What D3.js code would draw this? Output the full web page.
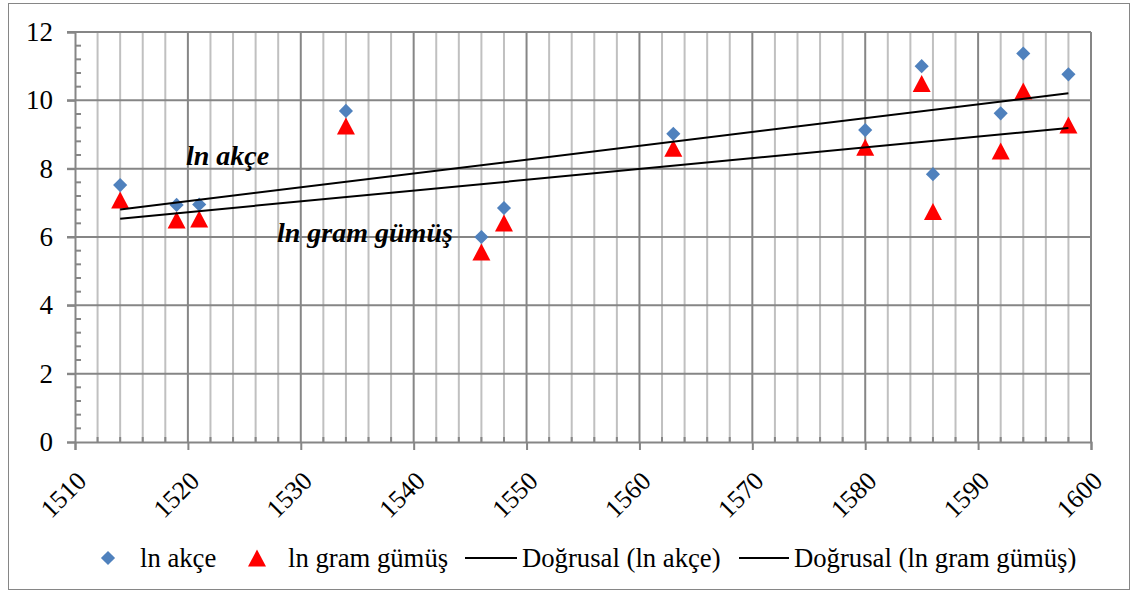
<!DOCTYPE html>
<html>
<head>
<meta charset="utf-8">
<script src="https://cdn.jsdelivr.net/npm/d3@7"></script>
<style>
  html, body { margin: 0; padding: 0; background: #fff; }
  svg { display: block; }
  svg text { font-family: "Liberation Serif", "Times New Roman", serif !important; fill: #000; }
</style>
</head>
<body>
<svg id="chart" width="1135" height="595"></svg>
<script>
// ---- data ----
const years   = [1514, 1519, 1521, 1534, 1546, 1548, 1563, 1580, 1585, 1586, 1592, 1594, 1598];
const lnAkce  = [7.52, 6.94, 6.95, 9.69, 6.00, 6.85, 9.02, 9.13, 11.00, 7.84, 9.62, 11.37, 10.76];
const lnGumus = [7.08, 6.50, 6.53, 9.25, 5.56, 6.41, 8.60, 8.63, 10.49, 6.75, 8.52, 10.27, 9.28];
const xTicks  = [1510, 1520, 1530, 1540, 1550, 1560, 1570, 1580, 1590, 1600];
const yTicks  = [0, 2, 4, 6, 8, 10, 12];
const seriesNames = ["ln akçe", "ln gram gümüş", "Doğrusal (ln akçe)", "Doğrusal (ln gram gümüş)"];
const annotations = ["ln akçe", "ln gram gümüş"];

const svg = d3.select("#chart");
const W = 1135, H = 595;
const margin = { left: 75, right: 44, top: 32, bottom: 153 };
const x = d3.scaleLinear().domain([1510, 1600]).range([margin.left, W - margin.right]);
const y = d3.scaleLinear().domain([0, 12]).range([H - margin.bottom, margin.top]);

const axisCol = "#868686", minorCol = "#c0c0c0";
const serif = '"Liberation Serif", "Times New Roman", serif';

// outer border
svg.append("rect").attr("x", 8.5).attr("y", 3.5).attr("width", 1121).attr("height", 586)
  .attr("fill", "none").attr("stroke", axisCol).attr("stroke-width", 1);

const g = svg.append("g");

// minor vertical gridlines (every 2 years)
const minorYears = d3.range(1512, 1600, 2).filter(v => v % 10 !== 0);
g.selectAll(".vminor").data(minorYears).join("line")
  .attr("x1", d => x(d)).attr("x2", d => x(d))
  .attr("y1", y(12)).attr("y2", y(0))
  .attr("stroke", minorCol).attr("stroke-width", 2);

// major vertical gridlines
g.selectAll(".vmajor").data(xTicks.slice(1)).join("line")
  .attr("x1", d => x(d)).attr("x2", d => x(d))
  .attr("y1", y(12)).attr("y2", y(0))
  .attr("stroke", axisCol).attr("stroke-width", 2);

// horizontal gridlines
g.selectAll(".hmajor").data(yTicks.slice(1)).join("line")
  .attr("x1", x(1510) - 8).attr("x2", x(1600))
  .attr("y1", d => y(d)).attr("y2", d => y(d))
  .attr("stroke", axisCol).attr("stroke-width", 2);

// y axis
const yAxis = d3.axisLeft(y).tickValues(yTicks).tickSize(8).tickFormat(d3.format("d"));
const ya = g.append("g").attr("transform", `translate(${x(1510)},0)`).call(yAxis)
  .attr("font-family", serif).attr("font-size", 27);
ya.select(".domain").attr("stroke", axisCol).attr("stroke-width", 2);
ya.selectAll(".tick line").attr("stroke", axisCol).attr("stroke-width", 2);
ya.selectAll(".tick text").attr("x", -22).style("font-family", serif).style("font-size", "27px");
// minor y ticks (inside)
const yMinor = d3.range(0, 12.01, 0.4).filter(v => Math.abs(v / 2 - Math.round(v / 2)) > 0.01);
g.selectAll(".ymin").data(yMinor).join("line")
  .attr("x1", x(1510)).attr("x2", x(1510) + 6)
  .attr("y1", d => y(d)).attr("y2", d => y(d))
  .attr("stroke", axisCol).attr("stroke-width", 2);

// x axis
const xAxis = d3.axisBottom(x).tickValues(xTicks).tickSize(8).tickFormat(d3.format("d"));
const xa = g.append("g").attr("transform", `translate(0,${y(0)})`).call(xAxis)
  .attr("font-family", serif).attr("font-size", 26);
xa.select(".domain").attr("stroke", axisCol).attr("stroke-width", 2);
xa.selectAll(".tick line").attr("stroke", axisCol).attr("stroke-width", 2);
xa.selectAll(".tick text")
  .style("font-family", serif).style("font-size", "26px")
  .attr("text-anchor", "end")
  .attr("x", 0).attr("y", 0).attr("dy", "0.35em")
  .attr("transform", "translate(6,34) rotate(-45)");
// minor x ticks (inside, upward)
g.selectAll(".xmin").data(minorYears).join("line")
  .attr("x1", d => x(d)).attr("x2", d => x(d))
  .attr("y1", y(0)).attr("y2", y(0) - 5)
  .attr("stroke", axisCol).attr("stroke-width", 2);

// markers
const diamond = d3.symbol(d3.symbolSquare, 100);
const triPath = "M0,-8.5L9,8.5L-9,8.5Z";

const pts = years.map((yr, i) => ({ yr, a: lnAkce[i], s: lnGumus[i] }));

g.selectAll(".tri").data(pts).join("path")
  .attr("d", triPath)
  .attr("transform", d => `translate(${x(d.yr)},${y(d.s)})`)
  .attr("fill", "#FF0000");

g.selectAll(".dia").data(pts).join("path")
  .attr("d", diamond)
  .attr("transform", d => `translate(${x(d.yr)},${y(d.a)}) rotate(45)`)
  .attr("fill", "#4F81BD");

// linear trend lines (least squares)
function linreg(xs, ys) {
  const mx = d3.mean(xs), my = d3.mean(ys);
  let sxy = 0, sxx = 0;
  xs.forEach((v, i) => { sxy += (v - mx) * (ys[i] - my); sxx += (v - mx) * (v - mx); });
  const b = sxy / sxx;
  return v => my + b * (v - mx);
}
const x0 = d3.min(years), x1 = d3.max(years);
[lnAkce, lnGumus].forEach(ser => {
  const f = linreg(years, ser);
  g.append("line")
    .attr("x1", x(x0)).attr("y1", y(f(x0)))
    .attr("x2", x(x1)).attr("y2", y(f(x1)))
    .attr("stroke", "#000").attr("stroke-width", 2);
});

// annotations
g.append("text").attr("x", 186).attr("y", 165)
  .style("font-family", serif).style("font-size", "28px")
  .attr("font-weight", "bold").attr("font-style", "italic")
  .text(annotations[0]);
g.append("text").attr("x", 277).attr("y", 242)
  .style("font-family", serif).style("font-size", "28px")
  .attr("font-weight", "bold").attr("font-style", "italic")
  .text(annotations[1]);

// legend
const ly = 558;
const leg = svg.append("g").style("font-family", serif).style("font-size", "26.7px");
leg.append("path").attr("d", diamond).attr("transform", `translate(108,${ly}) rotate(45)`).attr("fill", "#4F81BD");
leg.append("text").attr("x", 140).attr("y", ly + 9).text(seriesNames[0]);
leg.append("path").attr("d", triPath).attr("transform", `translate(257,${ly})`).attr("fill", "#FF0000");
leg.append("text").attr("x", 288).attr("y", ly + 9).text(seriesNames[1]);
leg.append("line").attr("x1", 465).attr("x2", 517).attr("y1", ly).attr("y2", ly).attr("stroke", "#000").attr("stroke-width", 2);
leg.append("text").attr("x", 522).attr("y", ly + 9).text(seriesNames[2]);
leg.append("line").attr("x1", 739).attr("x2", 789).attr("y1", ly).attr("y2", ly).attr("stroke", "#000").attr("stroke-width", 2);
leg.append("text").attr("x", 794).attr("y", ly + 9).text(seriesNames[3]);
</script>
</body>
</html>
